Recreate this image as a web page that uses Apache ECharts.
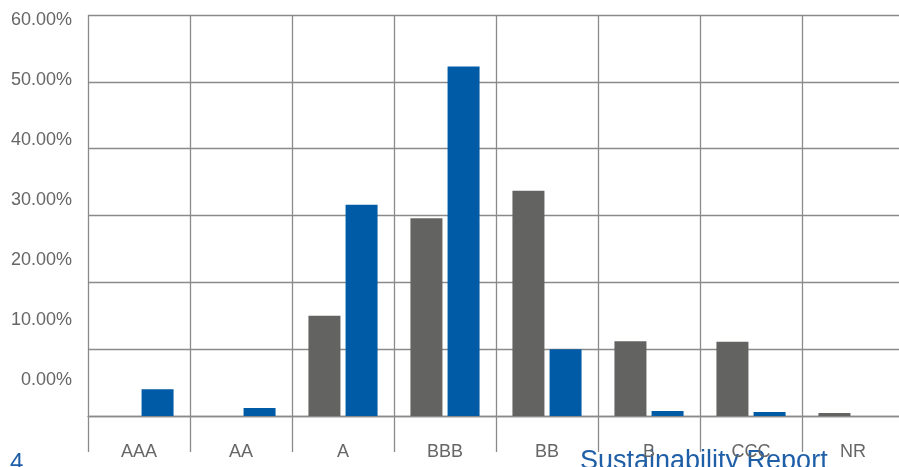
<!DOCTYPE html>
<html>
<head>
<meta charset="utf-8">
<style>
html,body{
	margin:0;
	padding:0;
	background:#fff;
}
#chart{
	width:899px;
	height:467px;
}
</style>
</head>
<body>
<div id="chart"></div>
<script src="https://cdn.jsdelivr.net/npm/echarts@6/dist/echarts.min.js"></script>
<script type="text/javascript">
	// 评级分布（%）
	var ratings = ['AAA', 'AA', 'A', 'BBB', 'BB', 'B', 'CCC', 'NR'];
	var grayValues = [0, 0, 15.0, 29.6, 33.7, 11.2, 11.1, 0.45];
	var blueValues = [4.0, 1.2, 31.6, 52.3, 10.0, 0.75, 0.6, 0];
	var yMin = 0, yMax = 60, yStep = 10;

	var lineColor = '#8a8a8a';
	var textColor = '#666';
	var font = '"Liberation Sans", Arial, sans-serif';

	var chart = echarts.init(document.getElementById('chart'));
	var option = {
		animation: false,
		grid: [
			// 柱状图区域（右侧超出画面）
			{left: 88, width: 816, top: 15, bottom: 51, outerBoundsMode: 'none', containLabel: false},
			// 仅用于y轴文字（原图文字与网格线错位）
			{left: 88, width: 816, top: 20, bottom: 87, outerBoundsMode: 'none', containLabel: false}
		],
		xAxis: [{
			type: 'category',
			gridIndex: 0,
			data: ratings,
			axisLine: {lineStyle: {color: lineColor, width: 1.3}},
			axisTick: {show: true, length: 36, lineStyle: {color: lineColor, width: 1.3}},
			splitLine: {show: true, lineStyle: {color: lineColor, width: 1.3}},
			axisLabel: {color: textColor, fontSize: 18, fontFamily: font, margin: 27}
		}, {
			type: 'category',
			gridIndex: 1,
			data: ratings,
			show: false
		}],
		yAxis: [{
			type: 'value',
			gridIndex: 0,
			min: yMin,
			max: yMax,
			interval: yStep,
			axisLine: {show: false},
			axisTick: {show: false},
			axisLabel: {show: false},
			splitLine: {lineStyle: {color: lineColor, width: 1.3}}
		}, {
			type: 'value',
			gridIndex: 1,
			min: yMin,
			max: yMax,
			interval: yStep,
			axisLine: {show: false},
			axisTick: {show: false},
			splitLine: {show: false},
			axisLabel: {
				color: textColor, fontSize: 18, fontFamily: font, margin: 16,
				formatter: function (v) { return v.toFixed(2) + '%'; }
			}
		}],
		series: [{
			name: 'gray',
			type: 'bar',
			data: grayValues,
			barWidth: 32,
			barGap: '16%',
			itemStyle: {color: '#636362'}
		}, {
			name: 'blue',
			type: 'bar',
			data: blueValues,
			barWidth: 32,
			itemStyle: {color: '#005ba6'}
		}],
		graphic: [{
			type: 'text',
			left: 10,
			top: 451,
			style: {text: '4', fill: '#1f5fa8', font: '24px ' + font}
		}, {
			type: 'text',
			left: 580,
			top: 448,
			style: {text: 'Sustainability Report', fill: '#1f5fa8', font: '27px ' + font}
		}]
	};
	chart.setOption(option);
</script>
</body>
</html>
